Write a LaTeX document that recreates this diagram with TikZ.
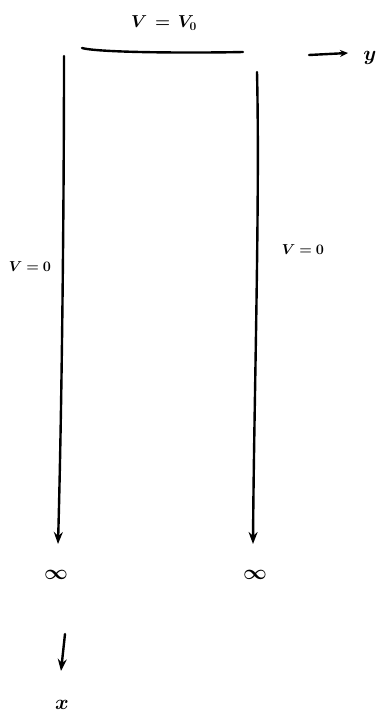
\documentclass[tikz,border=0pt]{standalone}
\usepackage{amsmath}
\usepackage{bm}
\usetikzlibrary{arrows.meta}
\begin{document}
\begin{tikzpicture}[x=1pt,y=-1pt,
  ink/.style={line width=2.4pt,line cap=round},
  lbl/.style={inner sep=1pt,font=\Large},
  tip/.style={-{Stealth[length=12pt,width=9pt]}}]
\useasboundingbox (0,0) rectangle (381,720);
% labels
\node[lbl,font=\LARGE] (top) at (164,23) {$\bm{V \,=\, V_0}$};
\node[lbl,font=\huge] (yl) at (370,58) {$\bm{y}$};
\node[lbl] (lv) at (30,267) {$\bm{V=0}$};
\node[lbl] (rv) at (303,250) {$\bm{V=0}$};
\node[lbl,font=\huge] (linf) at (56,575) {$\bm{\infty}$};
\node[lbl,font=\huge] (rinf) at (255,575) {$\bm{\infty}$};
\node[lbl,font=\huge] (xl) at (62,705) {$\bm{x}$};
% coordinates
\coordinate (t1) at (82,48);
\coordinate (t2) at (243,52);
\coordinate (l1) at (64,56);
\coordinate (l2) at (58,544);
\coordinate (r1) at (257,72);
\coordinate (r2) at (253,544);
\coordinate (a1) at (309,55);
\coordinate (a2) at (348,53);
\coordinate (d1) at (65,634);
\coordinate (d2) at (61,671);
% plate at V0
\draw[ink] (t1) .. controls (100,53) and (200,53) .. (t2);
% walls
\draw[ink,tip] (l1) .. controls (64,200) and (62,400) .. (l2);
\draw[ink,tip] (r1) .. controls (260,200) and (254,400) .. (r2);
% axis arrows
\draw[ink,-{Stealth[length=8pt,width=7pt]}] (a1) -- (a2);
\draw[ink,tip] (d1) -- (d2);
\end{tikzpicture}
\end{document}
